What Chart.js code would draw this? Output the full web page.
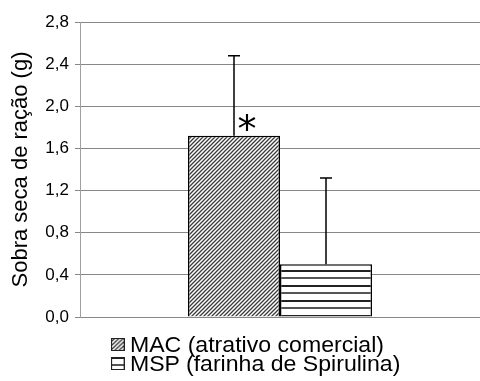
<!DOCTYPE html>
<html>
<head>
<meta charset="utf-8">
<script src="https://cdn.jsdelivr.net/npm/chart.js@4/dist/chart.umd.min.js"></script>
<style>
  body { margin: 0; background: #fff; }
  #wrap { position: relative; width: 480px; height: 381px; overflow: hidden; }
  #legend {
    position: absolute; left: 111px; top: 335px;
    font: 22px "Liberation Sans", Arial, sans-serif; line-height: 19px; color: #000;
    transform: scaleX(1.05); transform-origin: 0 0;
  }
  .item { display: flex; align-items: center; white-space: nowrap; }
  .item canvas { margin-right: 5px; }
</style>
</head>
<body>
<div id="wrap">
  <canvas id="chart" width="480" height="381"></canvas>
  <div id="legend"></div>
</div>
<script>
const categories = [''];
const seriesNames = ['MAC (atrativo comercial)', 'MSP (farinha de Spirulina)'];
const macValues = [1.72];
const mspValues = [0.50];
const macErrors = [0.76];
const mspErrors = [0.82];
const marks = [['*'], ['']];
const yTickLabels = ['0,0', '0,4', '0,8', '1,2', '1,6', '2,0', '2,4', '2,8'];

const FONT = '"Liberation Sans", Arial, sans-serif';

function hatchTile() {
  const c = document.createElement('canvas');
  c.width = 4; c.height = 4;
  const g = c.getContext('2d');
  g.fillStyle = '#fff';
  g.fillRect(0, 0, 4, 4);
  g.strokeStyle = '#3a3a3a';
  g.lineWidth = 1.3;
  g.beginPath();
  g.moveTo(0, 4); g.lineTo(4, 0);
  g.moveTo(-1, 1); g.lineTo(1, -1);
  g.moveTo(3, 5); g.lineTo(5, 3);
  g.stroke();
  return c;
}

function stripeTile() {
  const c = document.createElement('canvas');
  c.width = 8; c.height = 15;
  const g = c.getContext('2d');
  g.fillStyle = '#fff';
  g.fillRect(0, 0, 8, 15);
  g.fillStyle = '#222';
  g.fillRect(0, 0, 8, 2);
  g.fillStyle = '#555';
  g.fillRect(0, 7, 8, 2);
  return c;
}

const ctx = document.getElementById('chart').getContext('2d');
const macFill = ctx.createPattern(hatchTile(), 'repeat');
const mspFill = ctx.createPattern(stripeTile(), 'repeat');
const errors = [macErrors, mspErrors];

// error bars (upper only) + significance mark
const errorBars = {
  id: 'errorBars',
  afterDatasetsDraw(chart) {
    const c = chart.ctx;
    const y = chart.scales.y;
    chart.data.datasets.forEach((ds, di) => {
      chart.getDatasetMeta(di).data.forEach((bar, i) => {
        const top = y.getPixelForValue(ds.data[i] + errors[di][i]);
        c.save();
        c.strokeStyle = '#000';
        c.lineWidth = 1.5;
        c.beginPath();
        c.moveTo(bar.x, bar.y);
        c.lineTo(bar.x, top);
        c.moveTo(bar.x - 6, top);
        c.lineTo(bar.x + 6, top);
        c.stroke();
        const m = marks[di][i];
        if (m) {
          c.font = '38px "DejaVu Sans", sans-serif';
          c.fillStyle = '#000';
          c.textAlign = 'left';
          c.textBaseline = 'alphabetic';
          const tm = c.measureText(m);
          const cx = bar.x + 13, cy = bar.y - 14;
          const x0 = cx - (tm.actualBoundingBoxRight - tm.actualBoundingBoxLeft) / 2;
          const y0 = cy - (tm.actualBoundingBoxDescent - tm.actualBoundingBoxAscent) / 2;
          c.fillText(m, x0, y0);
        }
        c.restore();
      });
    });
  }
};

new Chart(ctx, {
  type: 'bar',
  data: {
    labels: categories,
    datasets: [
      {
        label: seriesNames[0],
        data: macValues,
        backgroundColor: macFill,
        borderColor: '#000',
        borderWidth: 1.5,
        categoryPercentage: 0.46,
        barPercentage: 1
      },
      {
        label: seriesNames[1],
        data: mspValues,
        backgroundColor: mspFill,
        borderColor: '#000',
        borderWidth: 1.5,
        categoryPercentage: 0.46,
        barPercentage: 1
      }
    ]
  },
  options: {
    responsive: false,
    animation: false,
    layout: { padding: { top: 22, right: -3, bottom: 64, left: 0 } },
    plugins: {
      legend: { display: false },
      tooltip: { enabled: false }
    },
    scales: {
      x: { display: false },
      y: {
        min: 0,
        max: 2.8,
        afterFit(scale) { scale.width = 80; },
        ticks: {
          stepSize: 0.4,
          color: '#000',
          padding: 6,
          font: { family: FONT, size: 17 },
          callback: (v, i) => yTickLabels[i]
        },
        grid: { color: '#878787', tickLength: 5 },
        border: { color: '#a0a0a0' },
        title: {
          display: true,
          text: 'Sobra seca de ração (g)',
          color: '#000',
          font: { family: FONT, size: 22 },
          padding: { top: 8, bottom: 0 }
        }
      }
    }
  },
  plugins: [errorBars]
});

// legend, stacked and left aligned as in the original
const legend = document.getElementById('legend');
[macFill, mspFill].forEach((fill, i) => {
  const row = document.createElement('div');
  row.className = 'item';
  const sw = document.createElement('canvas');
  sw.width = 13; sw.height = 13;
  const g = sw.getContext('2d');
  g.fillStyle = fill;
  g.fillRect(0, 0, 13, 13);
  g.strokeStyle = '#222';
  g.lineWidth = 1;
  g.strokeRect(0.5, 0.5, 12, 12);
  row.appendChild(sw);
  const t = document.createElement('span');
  t.textContent = seriesNames[i];
  row.appendChild(t);
  legend.appendChild(row);
});
</script>
</body>
</html>
